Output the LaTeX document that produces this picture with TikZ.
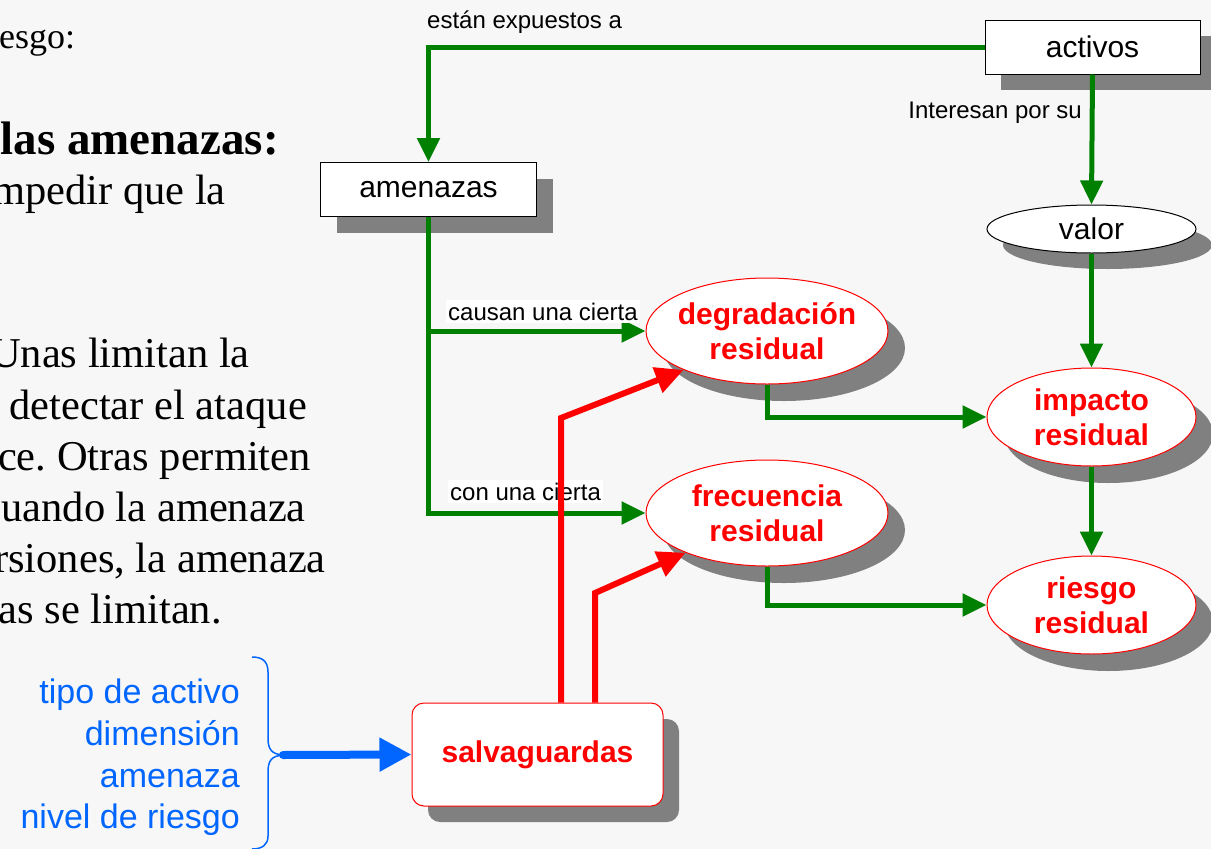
\documentclass[tikz,border=0pt]{standalone}
\usepackage{fontspec}
\setmainfont{Liberation Serif}
\newfontfamily\arial{Liberation Sans}
\usetikzlibrary{arrows.meta,shapes.geometric,shadows}
\definecolor{bgc}{RGB}{247,247,247}
\definecolor{ggreen}{RGB}{0,128,0}
\definecolor{shadowgray}{RGB}{128,128,128}
\definecolor{bblue}{RGB}{0,102,255}
\definecolor{rred}{RGB}{255,0,0}
\frenchspacing
\begin{document}
\begin{tikzpicture}[x=1pt,y=-1pt,
  serif/.style={anchor=base east, inner sep=0pt, font=\fontsize{42.5}{50}\selectfont},
  sh/.style={general shadow={fill=shadowgray, shadow xshift=#1, shadow yshift=-#1}},
  box/.style={rectangle, draw=black, line width=1pt, fill=white, inner sep=0pt,
    font=\arial\fontsize{30}{36}\selectfont, sh=16pt},
  oval/.style={ellipse, draw=rred, line width=1pt, fill=white, inner xsep=-20pt, inner ysep=-10pt,
    align=center, text=rred, font=\arial\bfseries\fontsize{30}{35}\selectfont, sh=17pt},
  garrow/.style={draw=ggreen, line width=5pt, -{Triangle[length=24pt,width=22pt]}},
  rarrow/.style={draw=rred, line width=6pt, -{Triangle[length=28pt,width=26pt]}},
  glabel/.style={inner sep=0pt, font=\arial\fontsize{24}{28}\selectfont},
  wlabel/.style={glabel, fill=white, inner xsep=2pt, inner ysep=3pt},
  btext/.style={anchor=base east, inner sep=0pt, text=bblue, font=\arial\fontsize{34}{40}\selectfont}
]
\useasboundingbox (0,0) rectangle (1211,849);
\fill[bgc] (0,0) rectangle (1211,849);

% left serif text (clipped slide text)
\node[serif, anchor=base west, font=\fontsize{36}{43}\selectfont] (t1) at (-1,48) {esgo:};
\node[serif, font=\bfseries\fontsize{47}{56}\selectfont] (t2) at (279,154) {las amenazas:};
\node[serif] (t3) at (226,204) {mpedir que la};
\node[serif] (t4) at (250,367) {Unas limitan la};
\node[serif] (t5) at (307,419) {detectar el ataque};
\node[serif] (t6) at (311,470) {ce. Otras permiten};
\node[serif] (t7) at (306,521) {uando la amenaza};
\node[serif] (t8) at (326,572) {rsiones, la amenaza};
\node[serif] (t9) at (222,623) {as se limitan.};

% nodes
\node[box, minimum width=215pt, minimum height=54pt] (act) at (1092.5,47) {activos};
\node[box, minimum width=216pt, minimum height=54pt] (amen) at (428.5,189.5) {amenazas};
\node[ellipse, draw=black, line width=1pt, fill=white, inner sep=0pt, sh=16pt,
  minimum width=209pt, minimum height=48pt, font=\arial\fontsize{30}{36}\selectfont] (valor) at (1091.5,229) {valor};
\node[oval, minimum width=242pt, minimum height=106pt] (degr) at (767,331) {degradación\\residual};
\node[oval, minimum width=242pt, minimum height=106pt] (frec) at (767,513) {frecuencia\\residual};
\node[oval, minimum width=209pt, minimum height=98pt] (imp) at (1091.5,417) {impacto\\residual};
\node[oval, minimum width=209pt, minimum height=98pt] (rie) at (1091.5,605) {riesgo\\residual};
\node[rectangle, rounded corners=12pt, draw=rred, line width=1pt, fill=white, sh=16pt,
  minimum width=251pt, minimum height=103pt, text=rred, font=\arial\bfseries\fontsize{30}{36}\selectfont] (salv) at (537.5,754.5) {salvaguardas};

% green connectors
\draw[garrow] (act.west) -| (amen.north);
\draw[garrow] (act.south) -- (valor.north);
\draw[garrow] (amen.south) |- (frec.west);
\draw[garrow] (amen.south |- degr.west) -- (degr.west);
\draw[garrow] (valor.south) -- (imp.north);
\draw[garrow] (degr.south) |- (imp.west);
\draw[garrow] (frec.south) |- (rie.west);
\draw[garrow] (imp.south) -- (rie.north);

% labels
\node[glabel, anchor=base west] (l1) at (427,28) {están expuestos a};
\node[glabel, anchor=base east] (l2) at (1082,118) {Interesan por su};
\node[wlabel, anchor=base west] (l3) at (446,320) {causan una cierta};
\node[wlabel, anchor=base west] (l4) at (448,500) {con una cierta};

% red connectors
\coordinate (r1) at (561,418);
\coordinate (r2) at (595,593);
\draw[rarrow] (salv.north -| r1) -- (r1) -- (degr.205);
\draw[rarrow] (salv.north -| r2) -- (r2) -- (frec.206);

% blue brace and arrow
\coordinate (btip) at (283,755);
\draw[bblue, line width=1.5pt] (252,657) .. controls (262,657) and (268,661) .. (268,672)
  -- (268,738) .. controls (268,750) and (272,754) .. (btip)
  .. controls (272,756) and (268,760) .. (268,772)
  -- (268,836) .. controls (268,845) and (262,849) .. (252,849);
\draw[bblue, line width=8pt, line cap=round, -{Triangle[length=32pt,width=32pt]}] (btip) -- (salv.west);

\node[btext] (b1) at (240,703) {tipo de activo};
\node[btext] (b2) at (240,745) {dimensión};
\node[btext] (b3) at (240,787) {amenaza};
\node[btext] (b4) at (240,828) {nivel de riesgo};
\end{tikzpicture}
\end{document}
